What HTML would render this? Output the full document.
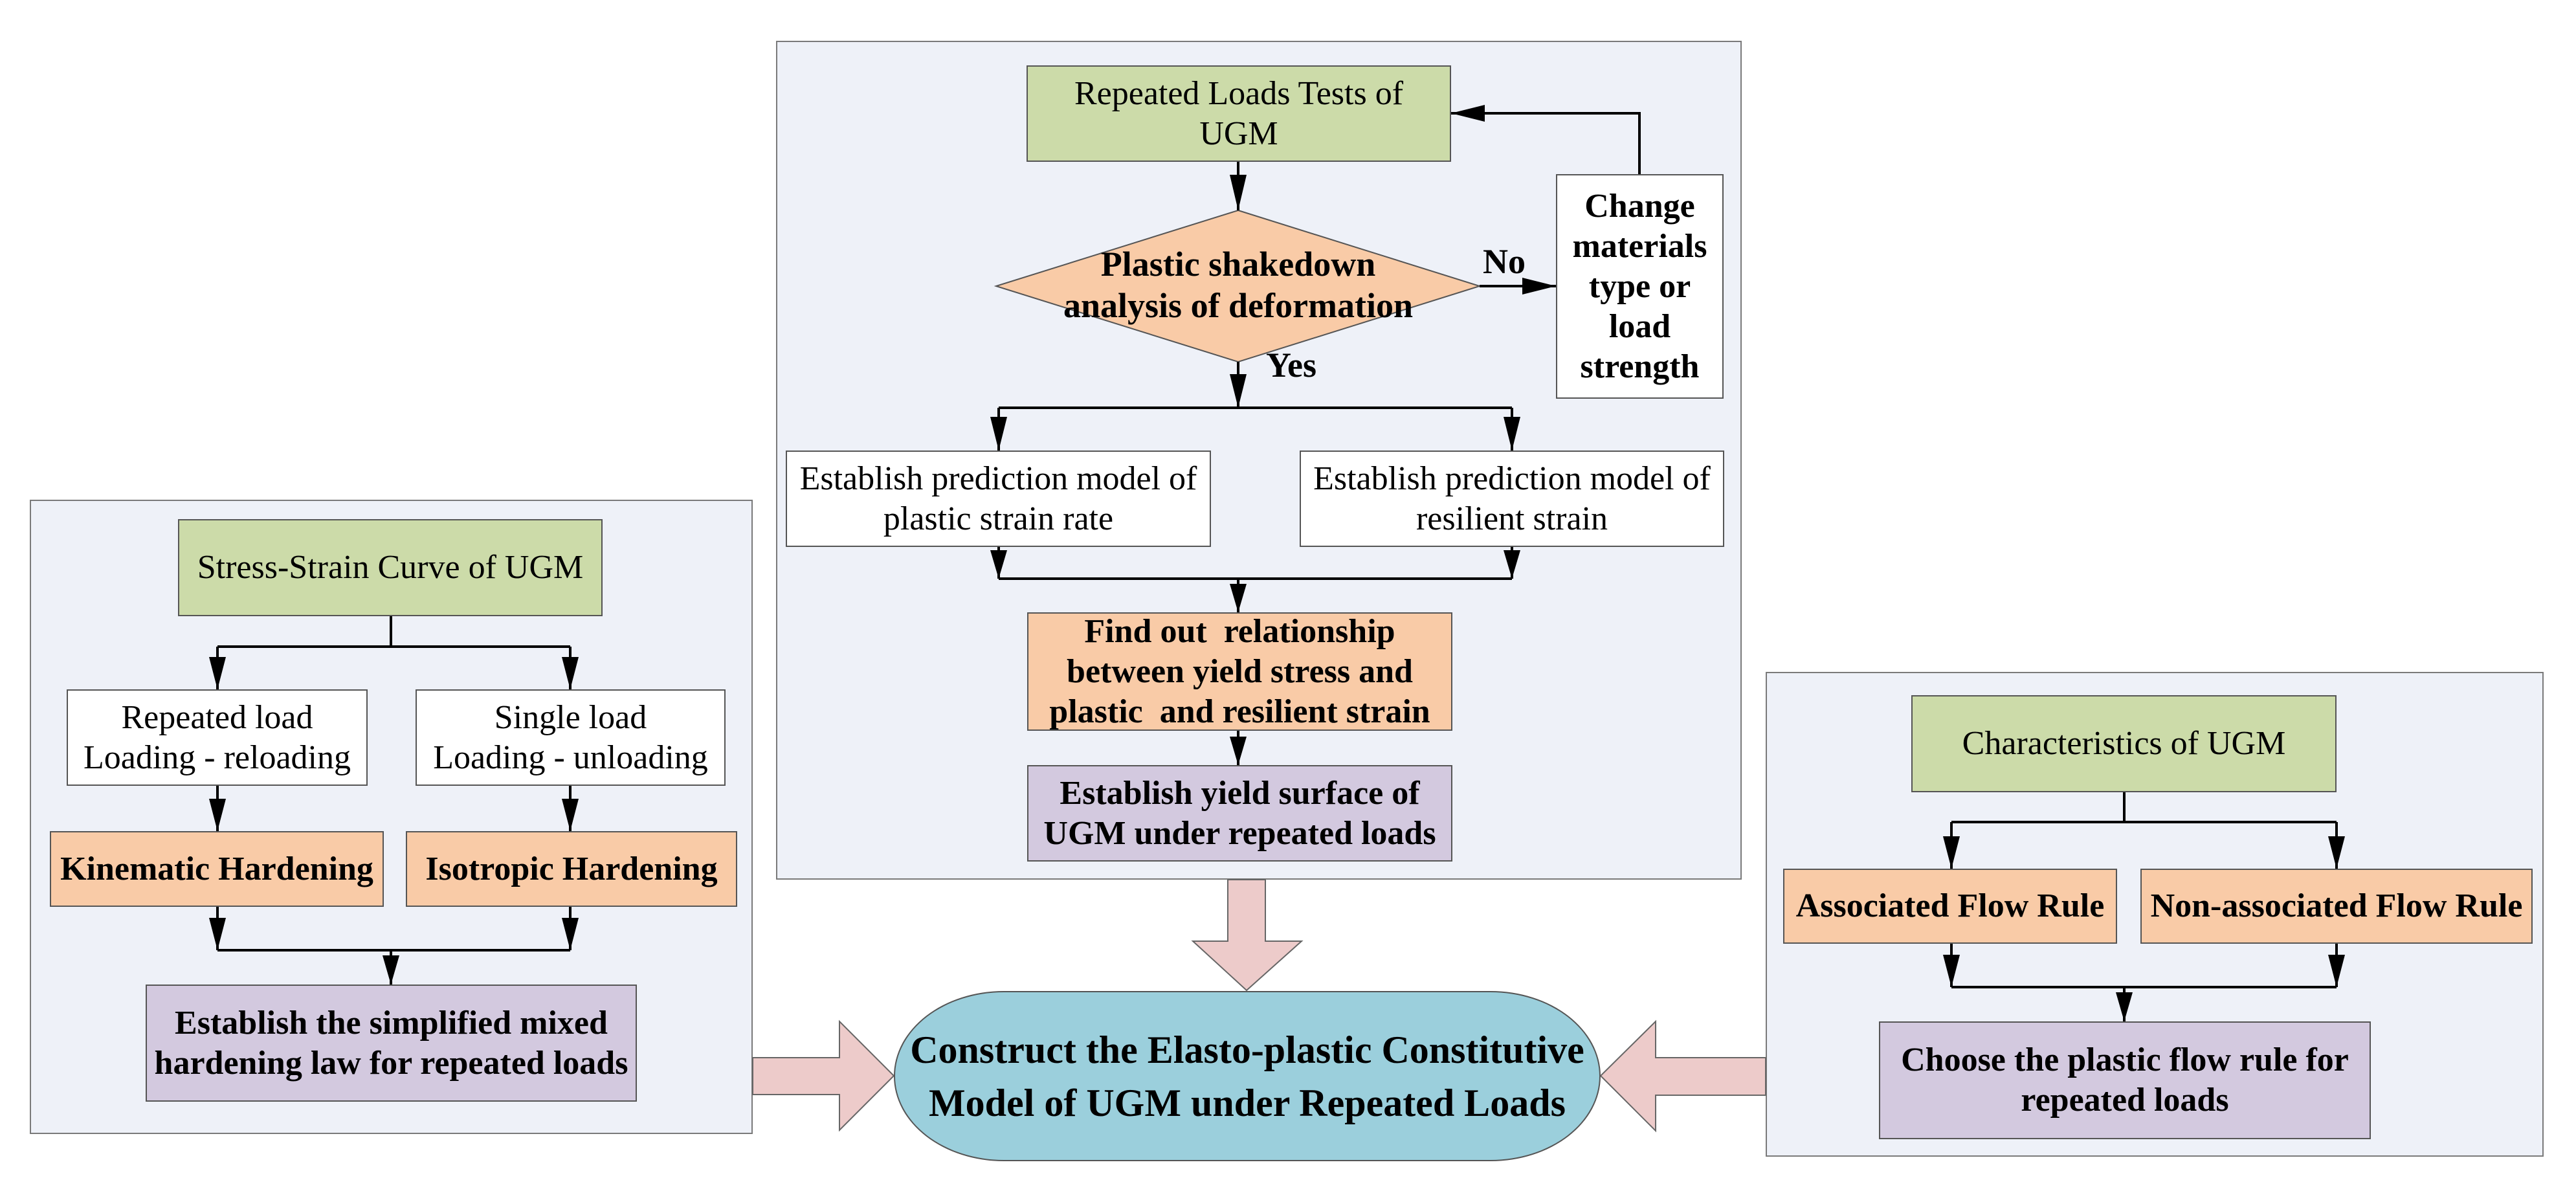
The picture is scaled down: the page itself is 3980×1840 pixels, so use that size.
<!DOCTYPE html>
<html><head><meta charset="utf-8"><style>
*{margin:0;padding:0;box-sizing:border-box}
body{width:3980px;height:1840px;background:#fff;position:relative;overflow:hidden;font-family:"Liberation Serif","DejaVu Serif",serif;color:#000}
.p{position:absolute;background:#EEF1F8;border:2px solid #7a7a7a}
.b{position:absolute;display:flex;align-items:center;justify-content:center;text-align:center;border:2px solid #555;font-size:52px;line-height:62px;white-space:nowrap}
.g{background:#CCDBA9}.o{background:#F9CBA7;font-weight:bold}.u{background:#D3C9DF;font-weight:bold}.w{background:#fff}
.t{position:absolute;font-size:54px;font-weight:bold;line-height:64px;text-align:center;white-space:nowrap}
svg{position:absolute;left:0;top:0}
</style></head><body>
<div class="p" style="left:1199px;top:63px;width:1492px;height:1296px"></div>
<div class="p" style="left:46px;top:772px;width:1117px;height:980px"></div>
<div class="p" style="left:2728px;top:1038px;width:1202px;height:749px"></div>

<svg width="3980" height="1840">
<g fill="#EDCBCA" stroke="#666" stroke-width="2">
<polygon points="1897,1359 1955,1359 1955,1454 2011,1454 1926,1530 1843,1454 1897,1454"/>
<polygon points="1163,1634 1297,1634 1297,1578 1381,1662 1297,1746 1297,1691 1163,1691"/>
<polygon points="2728,1634 2558,1634 2558,1578 2473,1662 2558,1747 2558,1692 2728,1692"/>
</g>
<polygon points="1913,325 2286,442 1913,559 1539,442" fill="#F9CBA7" stroke="#555" stroke-width="2"/>
<g stroke="#000" stroke-width="4" fill="none">
<path d="M1913 250V325M2286 442H2404M2533 269V175H2242M1913 559V630M1543 630H2336M1543 630V696M2336 630V696M1543 845V894M2336 845V894M1543 894H2336M1913 894V946M1913 1129V1182"/>
<path d="M604 952V999M336 999H881M336 999V1065M881 999V1065M336 1214V1284M881 1214V1284M336 1401V1468M881 1401V1468M336 1468H881M604 1468V1521"/>
<path d="M3282 1224V1270M3015 1270H3610M3015 1270V1342M3610 1270V1342M3015 1458V1525M3610 1458V1525M3015 1525H3610M3282 1525V1578"/>
</g>
<g fill="#000">
<polygon points="1900,270 1926,270 1913,325"/>
<polygon points="2352,429 2352,455 2404,442"/>
<polygon points="2294,162 2294,188 2242,175"/>
<polygon points="1900,578 1926,578 1913,630"/>
<polygon points="1530,644 1556,644 1543,696"/>
<polygon points="2323,644 2349,644 2336,696"/>
<polygon points="1530,850 1556,850 1543,894"/>
<polygon points="2323,850 2349,850 2336,894"/>
<polygon points="1900,902 1926,902 1913,946"/>
<polygon points="1900,1138 1926,1138 1913,1182"/>
<polygon points="323,1015 349,1015 336,1065"/>
<polygon points="868,1015 894,1015 881,1065"/>
<polygon points="323,1234 349,1234 336,1284"/>
<polygon points="868,1234 894,1234 881,1284"/>
<polygon points="323,1418 349,1418 336,1468"/>
<polygon points="868,1418 894,1418 881,1468"/>
<polygon points="591,1476 617,1476 604,1521"/>
<polygon points="3002,1292 3028,1292 3015,1342"/>
<polygon points="3597,1292 3623,1292 3610,1342"/>
<polygon points="3002,1475 3028,1475 3015,1525"/>
<polygon points="3597,1475 3623,1475 3610,1525"/>
<polygon points="3269,1533 3295,1533 3282,1578"/>
</g>
</svg>

<div class="b g" style="left:1586px;top:101px;width:656px;height:149px">Repeated Loads Tests of<br>UGM</div>
<div class="t" style="left:1560px;top:376px;width:706px">Plastic shakedown<br>analysis of deformation</div>
<div class="t" style="left:2284px;top:372px;width:80px">No</div>
<div class="t" style="left:1945px;top:532px;width:100px">Yes</div>
<div class="b w" style="left:2404px;top:269px;width:259px;height:347px;font-weight:bold">Change<br>materials<br>type or<br>load<br>strength</div>
<div class="b w" style="left:1214px;top:696px;width:657px;height:149px">Establish prediction model of<br>plastic strain rate</div>
<div class="b w" style="left:2008px;top:696px;width:656px;height:149px">Establish prediction model of<br>resilient strain</div>
<div class="b o" style="left:1587px;top:946px;width:657px;height:183px">Find out&nbsp; relationship<br>between yield stress and<br>plastic&nbsp; and resilient strain</div>
<div class="b u" style="left:1587px;top:1182px;width:657px;height:149px">Establish yield surface of<br>UGM under repeated loads</div>

<div class="b g" style="left:275px;top:802px;width:656px;height:150px">Stress-Strain Curve of UGM</div>
<div class="b w" style="left:103px;top:1065px;width:465px;height:149px">Repeated load<br>Loading - reloading</div>
<div class="b w" style="left:642px;top:1065px;width:479px;height:149px">Single load<br>Loading - unloading</div>
<div class="b o" style="left:77px;top:1284px;width:516px;height:117px">Kinematic Hardening</div>
<div class="b o" style="left:627px;top:1284px;width:512px;height:117px">Isotropic Hardening</div>
<div class="b u" style="left:225px;top:1521px;width:759px;height:181px">Establish the simplified mixed<br>hardening law for repeated loads</div>

<div class="b" style="left:1381px;top:1531px;width:1092px;height:263px;background:#9BCFDC;border-radius:170px/50%;font-weight:bold;font-size:60px;line-height:82px">Construct the Elasto-plastic Constitutive<br>Model of UGM under Repeated Loads</div>

<div class="b g" style="left:2953px;top:1074px;width:657px;height:150px">Characteristics of UGM</div>
<div class="b o" style="left:2755px;top:1342px;width:516px;height:116px">Associated Flow Rule</div>
<div class="b o" style="left:3307px;top:1342px;width:606px;height:116px">Non-associated Flow Rule</div>
<div class="b u" style="left:2903px;top:1578px;width:760px;height:182px">Choose the plastic flow rule for<br>repeated loads</div>
</body></html>
